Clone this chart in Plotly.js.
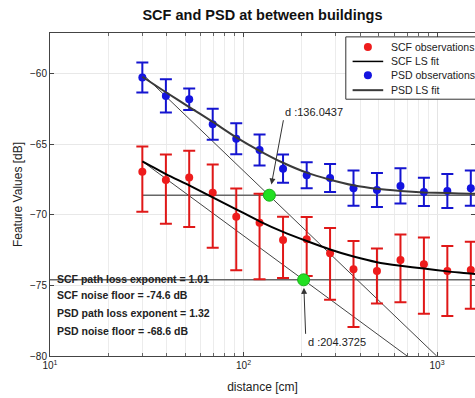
<!DOCTYPE html>
<html>
<head>
<meta charset="utf-8">
<script src="https://cdn.plot.ly/plotly-3.0.1.min.js"></script>
<style>html,body{margin:0;padding:0;background:#fff;}#chart{width:475px;height:398px;}</style>
</head>
<body>
<div id="chart"></div>
<script>
// distances [cm]
const dist = [30, 39.7, 52.4, 69.3, 91.7, 121, 160, 212, 280, 370, 489, 647, 855, 1130, 1494];
// SCF observations
const scfMean = [-66.93, -67.52, -67.35, -68.42, -70.12, -70.55, -71.77, -71.72, -72.72, -73.85, -73.97, -73.19, -73.5, -73.97, -73.9];
const scfErrPlus = [1.78, 1.8, 1.9, 2.0, 2.0, 2.05, 1.65, 1.58, 1.8, 2.0, 1.6, 1.8, 1.9, 1.77, 2.0];
const scfErrMinus = [2.84, 3.1, 3.5, 3.9, 3.8, 4.0, 2.7, 2.6, 3.3, 4.1, 2.3, 3.0, 3.5, 3.2, 2.75];
// PSD observations
const psdMean = [-60.26, -61.56, -61.8, -63.57, -64.6, -65.4, -66.72, -67.19, -67.38, -68.1, -68.23, -67.94, -68.37, -68.3, -68.1];
const psdErr = [1.06, 1.18, 0.76, 1.1, 1.1, 1.1, 1.0, 0.92, 1.0, 1.25, 1.2, 1.25, 1.0, 1.2, 1.25];
// LS fit curves
const fitDist = [30, 39.7, 52.4, 69.3, 91.7, 121, 160, 212, 280, 370, 489, 647, 855, 1130, 1494, 1580];
const scfFit = [-66.2, -67.1, -67.9, -68.75, -69.6, -70.45, -71.2, -71.85, -72.45, -72.95, -73.35, -73.6, -73.8, -74.0, -74.15, -74.2];
const psdFit = [-60.2, -61.3, -62.35, -63.4, -64.5, -65.45, -66.3, -67.0, -67.5, -67.9, -68.15, -68.3, -68.4, -68.45, -68.5, -68.5];
// path loss lines
const scfPLDist = [30, 700];
const scfPL = [-66.2, -80];
const psdPLDist = [30, 995];
const psdPL = [-60.0, -80];
// noise floors
const scfFloorDist = [10, 1600];
const scfFloor = [-74.6, -74.6];
const psdFloorDist = [30, 1600];
const psdFloor = [-68.6, -68.6];
// crossing points
const crossD = [136.0437, 204.3725];
const crossV = [-68.6, -74.6];
const crossLabels = ['d :136.0437', 'd :204.3725'];
// info text
const infoLines = ['SCF path loss exponent = 1.01', 'SCF noise floor = -74.6 dB', 'PSD path loss exponent = 1.32', 'PSD noise floor = -68.6 dB'];
// legend
const legendNames = ['SCF observations', 'SCF LS fit', 'PSD observations', 'PSD LS fit'];
// tick labels
const xTickVals = [10, 100, 1000];
const xTickText = ['10<sup>1</sup>', '10<sup>2</sup>', '10<sup>3</sup>'];
const xMinorVals = [20,30,40,50,60,70,80,90,200,300,400,500,600,700,800,900];
const yTickVals = [-80, -75, -70, -65, -60];

const FONT = 'Liberation Sans, Arial, sans-serif';
const RED = '#ee1c1c', BLUE = '#1414e0';

const traces = [
  {x: scfFloorDist, y: scfFloor, mode: 'lines', line: {color: '#666', width: 1.5}, showlegend: false, hoverinfo: 'skip'},
  {x: psdFloorDist, y: psdFloor, mode: 'lines', line: {color: '#666', width: 1.5}, showlegend: false, hoverinfo: 'skip'},
  {x: scfPLDist, y: scfPL, mode: 'lines', line: {color: '#444', width: 1}, showlegend: false, hoverinfo: 'skip'},
  {x: psdPLDist, y: psdPL, mode: 'lines', line: {color: '#444', width: 1}, showlegend: false, hoverinfo: 'skip'},
  {x: dist, y: scfMean, name: legendNames[0], mode: 'markers', showlegend: false,
   marker: {color: RED, size: 8},
   error_y: {type: 'data', symmetric: false, array: scfErrPlus, arrayminus: scfErrMinus, color: '#e01818', thickness: 2, width: 6}},
  {x: fitDist, y: scfFit, name: legendNames[1], mode: 'lines', showlegend: false, line: {color: '#000', width: 2, shape: 'spline', smoothing: 0.6}},
  {x: dist, y: psdMean, name: legendNames[2], mode: 'markers', showlegend: false,
   marker: {color: BLUE, size: 8},
   error_y: {type: 'data', array: psdErr, color: '#1414d0', thickness: 2, width: 6}},
  {x: fitDist, y: psdFit, name: legendNames[3], mode: 'lines', showlegend: false, line: {color: '#3a3a3a', width: 2, shape: 'spline', smoothing: 0.6}},
  {x: crossD, y: crossV, mode: 'markers', marker: {color: '#22e022', size: 12, line: {color: '#18b018', width: 1}}, showlegend: false, hoverinfo: 'skip'}
];

const annotations = [
  {x: Math.log10(crossD[0]), y: crossV[0], xref: 'x', yref: 'y', text: crossLabels[0], showarrow: true,
   xanchor: 'left', yanchor: 'bottom', ax: 14, ay: -75, arrowhead: 2, arrowsize: 1.2, arrowwidth: 1, arrowcolor: '#333', standoff: 11,
   font: {family: FONT, size: 11, color: '#222'}},
  {x: Math.log10(crossD[1]), y: crossV[1], xref: 'x', yref: 'y', text: crossLabels[1], showarrow: true,
   xanchor: 'left', yanchor: 'top', ax: 2, ay: 54, arrowhead: 2, arrowsize: 1.2, arrowwidth: 1, arrowcolor: '#333', standoff: 8,
   font: {family: FONT, size: 11, color: '#222'}}
];
const infoY = [0.238, 0.188, 0.133, 0.077];
infoLines.forEach((t, i) => {
  annotations.push({xref: 'paper', yref: 'paper', x: 0.012, y: infoY[i], xanchor: 'left', yanchor: 'middle',
    text: '<b>' + t + '</b>', showarrow: false, font: {family: FONT, size: 10.5, color: '#222'}});
});

// legend box (drawn as layout decoration)
const legY = [0.957, 0.912, 0.869, 0.823];
const legTextX = 0.797, legSymX = 0.748, legLineX0 = 0.712, legLineX1 = 0.784;
const shapes = [
  {type: 'rect', xref: 'paper', yref: 'paper', x0: 0.696, x1: 1.3, y0: 0.795, y1: 0.988,
   line: {color: '#333', width: 1}, fillcolor: '#fff', layer: 'above'}
];
const legStyles = [
  {kind: 'dot', color: RED}, {kind: 'line', color: '#000', width: 1.5},
  {kind: 'dot', color: BLUE}, {kind: 'line', color: '#3a3a3a', width: 2}
];
legStyles.forEach((s, i) => {
  if (s.kind === 'dot') {
    shapes.push({type: 'circle', xref: 'paper', yref: 'paper', xsizemode: 'pixel', ysizemode: 'pixel',
      xanchor: legSymX, yanchor: legY[i], x0: -4, x1: 4, y0: -4, y1: 4,
      fillcolor: s.color, line: {color: s.color, width: 0}, layer: 'above'});
  } else {
    shapes.push({type: 'line', xref: 'paper', yref: 'paper', x0: legLineX0, x1: legLineX1, y0: legY[i], y1: legY[i],
      line: {color: s.color, width: s.width}, layer: 'above'});
  }
  annotations.push({xref: 'paper', yref: 'paper', x: legTextX, y: legY[i], xanchor: 'left', yanchor: 'middle',
    text: legendNames[i], showarrow: false, font: {family: FONT, size: 10.5, color: '#222'}});
});

const layout = {
  width: 475, height: 398,
  margin: {l: 50, r: 0, t: 33, b: 42},
  paper_bgcolor: '#fff', plot_bgcolor: '#fff',
  font: {family: FONT, size: 10, color: '#222'},
  showlegend: false,
  title: {text: '<b>SCF and PSD at between buildings</b>', font: {family: FONT, size: 14.5, color: '#111'},
          xref: 'paper', x: 0.5, xanchor: 'center', y: 0.963, yref: 'container', yanchor: 'middle'},
  xaxis: {type: 'log', range: [1, 3.196], tickmode: 'array', tickvals: xTickVals, ticktext: xTickText,
          ticks: 'inside', ticklen: 4, tickcolor: '#444', showline: true, linecolor: '#444', linewidth: 1, mirror: 'ticks',
          showgrid: true, gridcolor: '#e4e4e4', zeroline: false,
          minor: {tickmode: 'array', tickvals: xMinorVals, ticks: 'inside', ticklen: 3, tickcolor: '#666', showgrid: true, gridcolor: '#ececec'},
          tickfont: {family: FONT, size: 10, color: '#222'},
          title: {text: 'distance [cm]', font: {family: FONT, size: 12, color: '#222'}, standoff: 12},
          automargin: false},
  yaxis: {range: [-80, -57.1], tickmode: 'array', tickvals: yTickVals,
          ticks: 'inside', ticklen: 4, tickcolor: '#444', showline: true, linecolor: '#444', linewidth: 1, mirror: 'ticks',
          showgrid: true, gridcolor: '#e8e8e8', zeroline: false,
          tickfont: {family: FONT, size: 10, color: '#222'},
          title: {text: 'Feature Values [dB]', font: {family: FONT, size: 12, color: '#222'}, standoff: 4},
          automargin: false},
  shapes: shapes,
  annotations: annotations
};

Plotly.newPlot('chart', traces, layout, {displayModeBar: false, staticPlot: true});
</script>
</body>
</html>
